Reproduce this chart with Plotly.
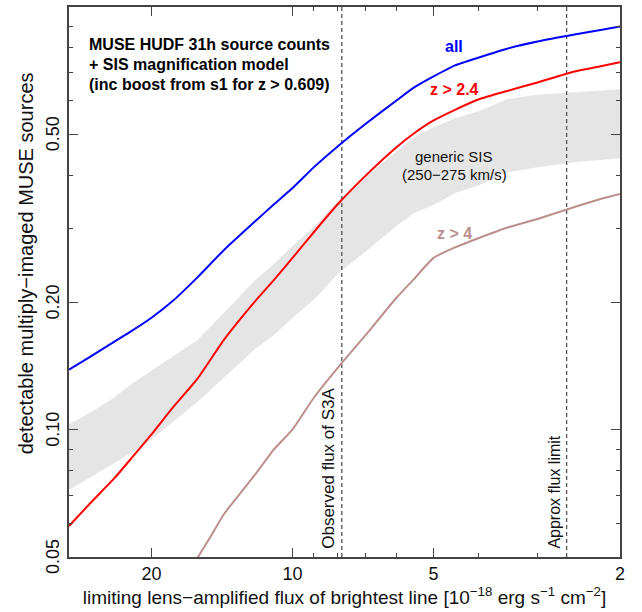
import numpy as np
import plotly.graph_objects as go

# ---------------- data ----------------
flux = [30, 27, 24, 22, 20, 18, 16, 14, 12, 11, 10, 9, 8, 7, 6, 5.5, 5, 4.5, 4, 3.5, 3, 2.5, 2.2, 2]
all_src = [0.1388, 0.149, 0.1616, 0.1715, 0.184, 0.2018, 0.2287, 0.2663, 0.3117, 0.340, 0.373,
           0.418, 0.4685, 0.528, 0.601, 0.6453, 0.685, 0.7274, 0.7596, 0.7957, 0.8284, 0.8606,
           0.8818, 0.899]
z_gt_24 = [0.0592, 0.0671, 0.0768, 0.0860, 0.0975, 0.1129, 0.1315, 0.1634, 0.2018, 0.225, 0.2550,
           0.2936, 0.3419, 0.398, 0.4659, 0.5027, 0.539, 0.5712, 0.605, 0.632, 0.663, 0.704,
           0.724, 0.740]
sis_hi = [0.1030, 0.1099, 0.1192, 0.1286, 0.1380, 0.1490, 0.1625, 0.1892, 0.2263, 0.2455, 0.2722,
          0.3016, 0.3475, 0.3959, 0.4559, 0.4919, 0.5193, 0.5453, 0.5666, 0.6046, 0.6197, 0.6297,
          0.635, 0.6385]
sis_lo = [0.0720, 0.0772, 0.0838, 0.0884, 0.0949, 0.1041, 0.1160, 0.1329, 0.1555, 0.1669, 0.1841,
          0.2030, 0.2338, 0.2634, 0.3034, 0.3256, 0.3402, 0.3629, 0.3790, 0.4057, 0.4180, 0.4295,
          0.4342, 0.4390]
flux_z4 = [16, 15, 14, 12, 11, 10, 9, 8, 7, 6, 5.5, 5, 4.5, 4, 3.5, 3, 2.5, 2.2, 2]
z_gt_4 = [0.0495, 0.0556, 0.0632, 0.0785, 0.0894, 0.1002, 0.1192, 0.1403, 0.1669, 0.2052,
          0.2275, 0.2550, 0.2700, 0.2842, 0.3001, 0.3151, 0.3364, 0.3513, 0.3611]

s3a_flux = 7.85
approx_limit = 2.6

x_major = [20, 10, 5, 2]
x_major_text = ["20", "10", "5", "2"]
x_minor = [9, 8, 7, 6, 4, 3]
y_major = [0.05, 0.10, 0.20, 0.50]
y_major_text = ["0.05", "0.10", "0.20", "0.50"]
y_minor = [0.06, 0.07, 0.08, 0.09, 0.3, 0.4, 0.6, 0.7, 0.8, 0.9]

x_range = (30, 2)
y_range = (0.05, 1.0)

title_lines = ["MUSE HUDF 31h source counts", "+ SIS magnification model",
               "(inc boost from s1 for z > 0.609)"]

# ---------------- styles ----------------
FONT = "Liberation Sans, Arial, Helvetica, sans-serif"
BLUE = "#0000FF"
RED = "#FF0000"
BROWN = "#BC8F8F"
BAND = "#E5E5E5"
AXIS = "#444444"
TXT = "#111111"

fig = go.Figure()

fig.add_trace(go.Scatter(x=flux, y=sis_lo, mode="lines", line=dict(width=0, color=BAND),
                         hoverinfo="skip", showlegend=False))
fig.add_trace(go.Scatter(x=flux, y=sis_hi, mode="lines", line=dict(width=0, color=BAND),
                         fill="tonexty", fillcolor=BAND, hoverinfo="skip", showlegend=False))

for xv in (s3a_flux, approx_limit):
    fig.add_trace(go.Scatter(x=[xv, xv], y=list(y_range), mode="lines",
                             line=dict(color="#555555", width=1.3, dash="4px,3px"),
                             showlegend=False, hoverinfo="skip"))

line_kw = dict(shape="spline", smoothing=0.5)
fig.add_trace(go.Scatter(x=flux_z4, y=z_gt_4, mode="lines", name="z > 4",
                         line=dict(color=BROWN, width=2, **line_kw), showlegend=False))
fig.add_trace(go.Scatter(x=flux, y=z_gt_24, mode="lines", name="z > 2.4",
                         line=dict(color=RED, width=2, **line_kw), showlegend=False))
fig.add_trace(go.Scatter(x=flux, y=all_src, mode="lines", name="all",
                         line=dict(color=BLUE, width=2, **line_kw), showlegend=False))

L = np.log10


def dann(text, fx, fy, **kw):
    d = dict(text=text, x=L(fx), y=L(fy), xref="x", yref="y", showarrow=False,
             xanchor="center", yanchor="middle")
    d.update(kw)
    fig.add_annotation(**d)


dann("<b>all</b>", 4.52, 0.806, font=dict(family=FONT, size=16, color=BLUE))
dann("<b>z > 2.4</b>", 4.52, 0.638, font=dict(family=FONT, size=16, color=RED))
dann("generic SIS", 4.52, 0.4437, font=dict(family=FONT, size=15, color=TXT))
dann("(250\u2212275 km/s)", 4.52, 0.402, font=dict(family=FONT, size=15, color=TXT))
dann("<b>z > 4</b>", 4.52, 0.292, font=dict(family=FONT, size=16, color=BROWN))

dann("Observed flux of S3A", s3a_flux, y_range[0], textangle=-90, xanchor="right", yanchor="bottom",
     xshift=-2, yshift=6, font=dict(family=FONT, size=17, color=TXT))
dann("Approx flux limit", approx_limit, y_range[0], textangle=-90, xanchor="right", yanchor="bottom",
     xshift=-2, yshift=6, font=dict(family=FONT, size=16, color=TXT))

# bold header block (three lines, 20 px apart)
for i, line in enumerate(title_lines):
    fig.add_annotation(text="<b>%s</b>" % line, xref="paper", yref="paper",
                       x=0.032, y=1 - (38 + 20 * i) / 552.0, xanchor="left", yanchor="middle",
                       showarrow=False, font=dict(family=FONT, size=16, color="#000000"))

# y tick labels (rotated, parallel to the axis)
for v, t in zip(y_major, y_major_text):
    fig.add_annotation(text=t, xref="paper", yref="y", x=0, y=L(v), xanchor="right",
                       yanchor="middle", textangle=-90, xshift=-4, showarrow=False,
                       font=dict(family=FONT, size=18, color=TXT))

fig.add_annotation(text="detectable multiply\u2212imaged MUSE sources", xref="paper", yref="paper",
                   x=-0.078, y=0.534, xanchor="center", yanchor="middle", textangle=-90,
                   showarrow=False, font=dict(family=FONT, size=20, color=TXT))

fig.update_layout(
    width=642, height=612,
    margin=dict(l=69, r=22, t=5, b=55),
    paper_bgcolor="white", plot_bgcolor="white",
    font=dict(family=FONT, color=TXT),
    xaxis=dict(type="log", range=[L(x_range[0]), L(x_range[1])],
               tickmode="array", tickvals=x_major, ticktext=x_major_text,
               ticks="inside", ticklen=9, tickwidth=1.2, tickcolor=AXIS,
               minor=dict(tickmode="array", tickvals=x_minor, ticks="inside", ticklen=4,
                          tickwidth=1.2, tickcolor=AXIS, showgrid=False),
               showline=True, linecolor=AXIS, linewidth=1.5, mirror="ticks",
               showgrid=False, zeroline=False, tickfont=dict(size=18, color=TXT),
               title=dict(text="limiting lens\u2212amplified flux of brightest line "
                               "[10<sup>\u221218</sup> erg s<sup>\u22121</sup> cm<sup>\u22122</sup>]",
                          font=dict(size=19, color=TXT), standoff=4)),
    yaxis=dict(type="log", range=[L(y_range[0]), L(y_range[1])],
               tickmode="array", tickvals=y_major, ticktext=y_major_text, showticklabels=False,
               ticks="inside", ticklen=9, tickwidth=1.2, tickcolor=AXIS,
               minor=dict(tickmode="array", tickvals=y_minor, ticks="inside", ticklen=4,
                          tickwidth=1.2, tickcolor=AXIS, showgrid=False),
               showline=True, linecolor=AXIS, linewidth=1.5, mirror="ticks",
               showgrid=False, zeroline=False),
)

fig.write_html("out.html")
